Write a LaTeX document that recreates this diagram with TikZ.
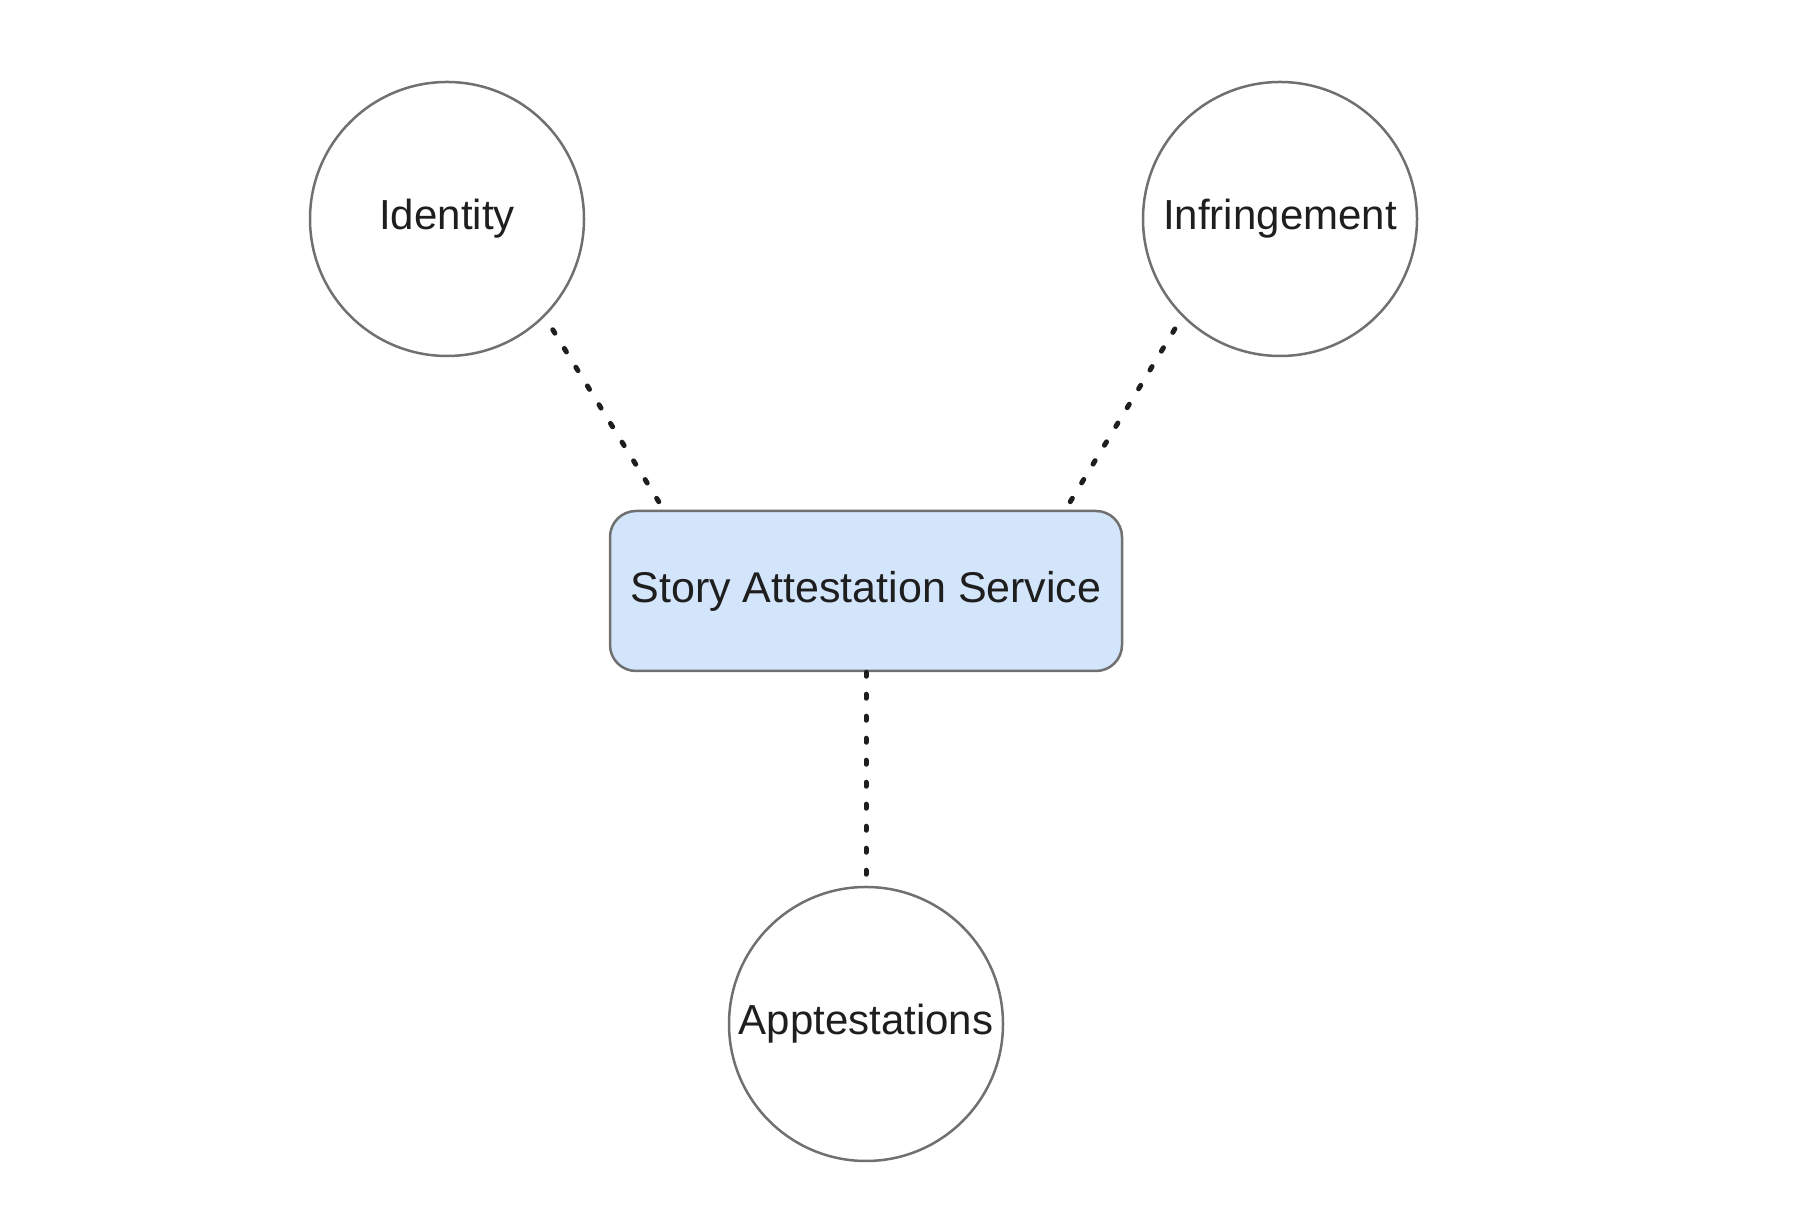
\documentclass[tikz,border=0pt]{standalone}
\usepackage{fontspec}
\setmainfont{Liberation Sans}
\definecolor{boxblue}{HTML}{D3E5FA}
\definecolor{rim}{HTML}{707070}
\definecolor{ink}{HTML}{1E1E1E}
\begin{document}
\begin{tikzpicture}[x=1pt,y=1pt,
  topic/.style={draw=rim,line width=2.5pt,circle,minimum size=274pt,inner sep=0pt,text=ink,font=\fontsize{42}{48}\selectfont},
  service/.style={draw=rim,line width=2.5pt,rounded corners=26pt,fill=boxblue,minimum width=512pt,minimum height=160pt,text=ink,font=\fontsize{43}{49}\selectfont},
  link/.style={draw=ink,line width=5pt,dash pattern=on 4pt off 18pt,line cap=round}]
\useasboundingbox (0,0) rectangle (1818,1230);
\node[service] (sas) at (866,639) {Story Attestation Service};
\node[topic] (identity) at (447,1011) {Identity};
\node[topic] (infringement) at (1280,1011) {Infringement};
\node[topic] (apptest) at (866,206) {Apptestations};

\draw[link] ([xshift=50pt,yshift=8pt]sas.north west) -- (identity.-45);
\draw[link] ([xshift=-53pt,yshift=8pt]sas.north east) -- (infringement.-135);
\draw[link] (sas.south) -- (apptest.north);
\end{tikzpicture}
\end{document}
